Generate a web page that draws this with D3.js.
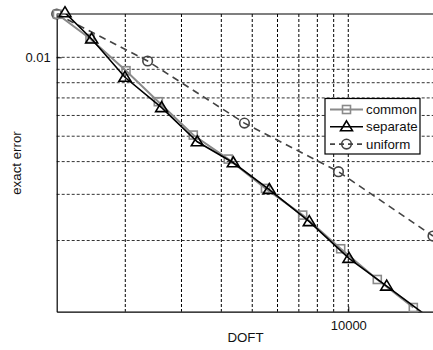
<!DOCTYPE html>
<html><head><meta charset="utf-8">
<script src="https://cdn.jsdelivr.net/npm/d3@7"></script>
<style>body{margin:0;background:#fff}svg{display:block}text{font-family:"Liberation Sans",Arial,sans-serif}</style>
</head><body><svg id="c" width="433" height="350"></svg>
<script>
const commonX = [1226, 1550, 2010, 2538, 3267, 4206, 5501, 7196, 9467, 12330, 15990];
const commonY = [0.0146, 0.0118, 0.00889, 0.00677, 0.00505, 0.00409, 0.00316, 0.00250, 0.00186, 0.00142, 0.00111];
const separateX = [1294, 1569, 1995, 2600, 3363, 4361, 5655, 7548, 10050, 13196, 17275];
const separateY = [0.0148, 0.01174, 0.00839, 0.00643, 0.00476, 0.00396, 0.00313, 0.00236, 0.00171, 0.00134, 0.00105];
const uniformX = [1219, 2350, 4726, 9317, 18431];
const uniformY = [0.01463, 0.00968, 0.00561, 0.00366, 0.00208];
const xTickLabels = [10000];
const yTickLabels = [0.01];
const xGrid = [2000, 3000, 4000, 5000, 6000, 7000, 8000, 9000, 10000];
const yGrid = [0.002, 0.003, 0.004, 0.005, 0.006, 0.007, 0.008, 0.009, 0.01];
const seriesNames = ["common", "separate", "uniform"];

const L = 56.7, R = 437.2, T = 14, B = 311.7;
const x = d3.scaleLog().domain([1219, 19000]).range([L, R]);
const y = d3.scaleLog().domain([0.00107, 0.01463]).range([B, T]);
const svg = d3.select("#c");

svg.append("defs").append("clipPath").attr("id", "clip")
  .append("rect").attr("x", L).attr("y", T).attr("width", R - L).attr("height", B - T);

// grid
const g = svg.append("g");
g.selectAll(".vg").data(xGrid).enter().append("line")
  .attr("x1", d => x(d)).attr("x2", d => x(d)).attr("y1", T).attr("y2", B)
  .attr("stroke", "#000").attr("stroke-width", 1).attr("stroke-dasharray", "3,2");
g.selectAll(".hg").data(yGrid).enter().append("line")
  .attr("y1", d => y(d)).attr("y2", d => y(d)).attr("x1", L).attr("x2", R)
  .attr("stroke", "#333").attr("stroke-width", 1).attr("stroke-dasharray", "3,2");

// axes
const xAxis = d3.axisBottom(x).tickValues(xTickLabels).tickFormat(d3.format("d")).tickSizeInner(-5).tickSizeOuter(0).tickPadding(9);
const yAxis = d3.axisLeft(y).tickValues(yTickLabels).tickFormat(d => d).tickSizeInner(-5).tickSizeOuter(0).tickPadding(6);
const gx = svg.append("g").attr("transform", `translate(0,${B})`).call(xAxis);
const gy = svg.append("g").attr("transform", `translate(${L},0)`).call(yAxis);
[gx, gy].forEach(a => {
  a.select(".domain").attr("stroke", "#000").attr("stroke-width", 1.2);
  a.selectAll("text").attr("font-size", 13).attr("fill", "#111").attr("font-family", "Liberation Sans, Arial, sans-serif");
});
svg.append("line").attr("x1", L).attr("x2", 433).attr("y1", T).attr("y2", T).attr("stroke", "#000").attr("stroke-width", 1.2);

svg.append("text").attr("x", 245.5).attr("y", 342).attr("text-anchor", "middle").attr("font-size", 13.3).attr("fill", "#111").text("DOFT");
svg.append("text").attr("transform", "translate(20.5,163) rotate(-90)").attr("text-anchor", "middle").attr("font-size", 13.3).attr("fill", "#111").text("exact error");

// series
const series = [
  {name: seriesNames[0], xs: commonX, ys: commonY, color: "#8a8a8a", width: 2, dash: null, marker: "square"},
  {name: seriesNames[1], xs: separateX, ys: separateY, color: "#000", width: 1.6, dash: null, marker: "triangle"},
  {name: seriesNames[2], xs: uniformX, ys: uniformY, color: "#444", width: 1.6, dash: "7,5", marker: "circle"}
];
const line = d3.line().x(d => x(d[0])).y(d => y(d[1]));

function drawMarker(sel, type, cx, cy, color) {
  if (type === "square") {
    sel.append("rect").attr("x", cx - 4).attr("y", cy - 4).attr("width", 8).attr("height", 8)
      .attr("fill", "none").attr("stroke", color).attr("stroke-width", 1.6);
  } else if (type === "triangle") {
    sel.append("path").attr("d", `M${cx},${cy - 6}L${cx + 6},${cy + 4}L${cx - 6},${cy + 4}Z`)
      .attr("fill", "none").attr("stroke", color).attr("stroke-width", 1.6);
  } else {
    sel.append("circle").attr("cx", cx).attr("cy", cy).attr("r", 4.8)
      .attr("fill", "none").attr("stroke", color).attr("stroke-width", 1.6);
  }
}

const order = [2, 0, 1];
order.forEach(i => {
  const s = series[i];
  const pts = s.xs.map((v, k) => [v, s.ys[k]]);
  svg.append("path").datum(pts).attr("d", line).attr("clip-path", "url(#clip)")
    .attr("fill", "none").attr("stroke", s.color).attr("stroke-width", s.width)
    .attr("stroke-dasharray", s.dash);
  const mg = svg.append("g");
  pts.filter(p => y(p[1]) <= B + 1).forEach(p => drawMarker(mg, s.marker, x(p[0]), y(p[1]), s.color));
});

// legend
const lg = svg.append("g");
lg.append("rect").attr("x", 325).attr("y", 98.5).attr("width", 95).attr("height", 55.5)
  .attr("fill", "#fff").attr("stroke", "#000").attr("stroke-width", 1.2);
series.forEach((s, i) => {
  const ly = 109.5 + i * 17.3;
  lg.append("line").attr("x1", 330).attr("x2", 363).attr("y1", ly).attr("y2", ly)
    .attr("stroke", s.color).attr("stroke-width", s.width).attr("stroke-dasharray", s.dash ? "5,4" : null);
  drawMarker(lg, s.marker, 346.5, ly, s.color);
  lg.append("text").attr("x", 366).attr("y", ly + 4.6).attr("font-size", 13.3).attr("fill", "#111").text(s.name);
});
</script></body></html>
